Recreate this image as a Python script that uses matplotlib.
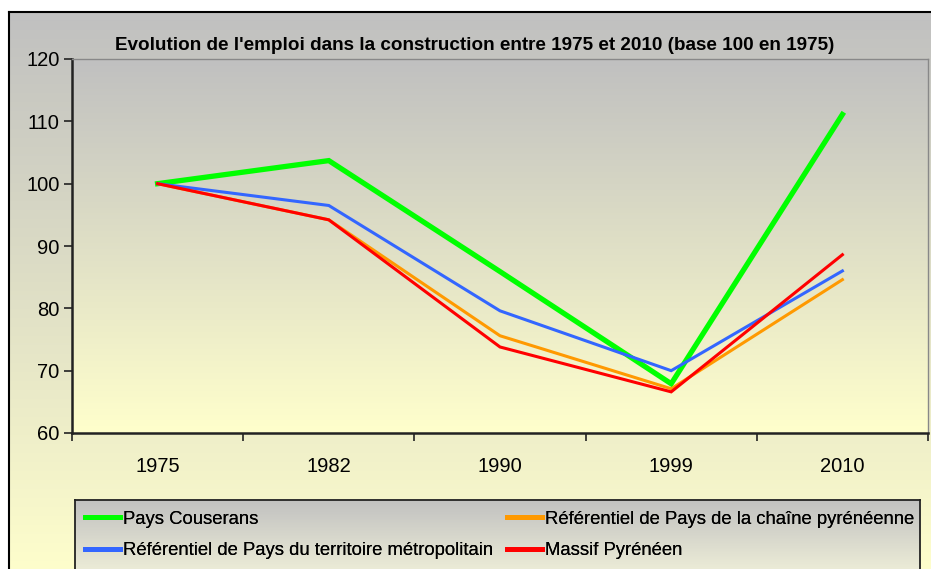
import numpy as np
import matplotlib
matplotlib.use("Agg")
import matplotlib.pyplot as plt
from matplotlib.colors import LinearSegmentedColormap

plt.rcParams['font.family'] = ['Liberation Sans', 'DejaVu Sans']

title = "Evolution de l'emploi dans la construction entre 1975 et 2010 (base 100 en 1975)"
years = ["1975", "1982", "1990", "1999", "2010"]
couserans = [100, 103.7, 85.9, 67.9, 111.1]
chaine = [100, 94.2, 75.6, 67.1, 84.6]
metropole = [100, 96.5, 79.6, 70.0, 86.0]
massif = [100, 94.2, 73.8, 66.6, 88.6]
names = ["Pays Couserans",
         "Référentiel de Pays de la chaîne pyrénéenne",
         "Référentiel de Pays du territoire métropolitain",
         "Massif Pyrénéen"]
colors = ["#00FF00", "#FF9900", "#3366FF", "#FF0000"]
widths = [3.8, 2.2, 2.2, 2.2]
yticks = [60, 70, 80, 90, 100, 110, 120]

W, H = 931, 569
fig = plt.figure(figsize=(W / 100, H / 100), dpi=100)
fig.patch.set_facecolor("white")

def grad(axx, top, bottom):
    cmap = LinearSegmentedColormap.from_list("g", [top, bottom])
    g = np.linspace(0, 1, 256).reshape(-1, 1)
    axx.imshow(g, aspect="auto", cmap=cmap, extent=[0, 1, 0, 1],
               transform=axx.transAxes, zorder=0, interpolation="bilinear")

# outer chart area
bg = fig.add_axes([9 / W, -0.02, 1.0, (H - 12) / H + 0.02])
grad(bg, "#C0C0C0", "#FFFFCC")
bg.set_xticks([]); bg.set_yticks([])
for s in bg.spines.values():
    s.set_color("#000000"); s.set_linewidth(1.5)

# plot area
ax = fig.add_axes([72 / W, (H - 433) / H, (928 - 72) / W, (433 - 59) / H])
grad(ax, "#C0C0C0", "#FFFFCC")
x = np.arange(len(years))
series = [couserans, chaine, metropole, massif]
handles = []
for vals, c, lw, n in zip(series, colors, widths, names):
    h, = ax.plot(x, vals, color=c, lw=lw, label=n, zorder=3,
                 solid_joinstyle="miter")
    handles.append(h)
ax.set_xlim(-0.5, len(years) - 0.5)
ax.set_ylim(60, 120)
ax.set_yticks(yticks)
ax.set_yticklabels([str(v) for v in yticks], fontsize=14.5)
ax.set_xticks(x)
ax.set_xticklabels(years, fontsize=14.5)
ax.set_xticks(np.arange(len(years) + 1) - 0.5, minor=True)
ax.tick_params(axis="x", which="major", length=0, pad=17)
ax.tick_params(axis="x", which="minor", length=6, width=1.2, color="#222222")
ax.tick_params(axis="y", length=6, width=1.2, color="#222222", pad=3)
for side in ["left", "bottom"]:
    ax.spines[side].set_color("#222222"); ax.spines[side].set_linewidth(1.8)
for side in ["top", "right"]:
    ax.spines[side].set_color("#888888"); ax.spines[side].set_linewidth(1.0)
fig.text(475 / W, 1 - 45 / H, title, ha="center", va="center",
         fontsize=13.6, fontweight="bold")

# legend box
lg = fig.add_axes([75 / W, -0.02, (920 - 75) / W, (569 - 500) / H + 0.02])
grad(lg, "#C0C0C0", "#F2F2DA")
lg.set_xticks([]); lg.set_yticks([])
for s in lg.spines.values():
    s.set_color("#222222"); s.set_linewidth(1.3)

col1 = [handles[0], handles[2]]
col2 = [handles[1], handles[3]]
for hs, xpos in [(col1, 81), (col2, 503)]:
    leg = fig.legend(hs, [h.get_label() for h in hs], loc="upper left",
                     bbox_to_anchor=(xpos / W, 1 - 507 / H), frameon=False,
                     fontsize=13.3, handlelength=1.9, handletextpad=0.2,
                     labelspacing=0.8, borderaxespad=0, borderpad=0.2)
    for l in leg.get_lines():
        l.set_linewidth(3.5)
    fig.add_artist(leg)

fig.savefig("out.png", dpi=100, facecolor="white")
